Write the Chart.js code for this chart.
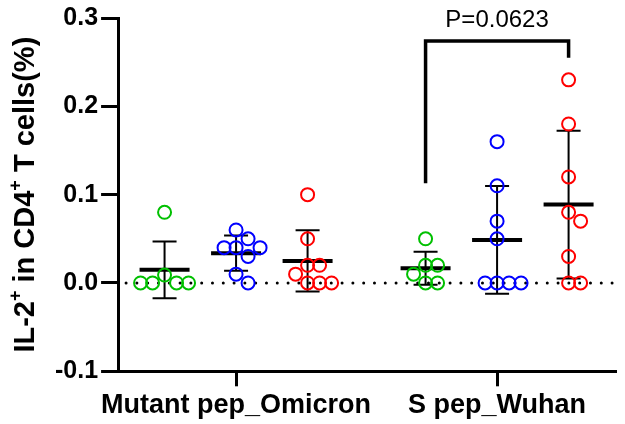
<!DOCTYPE html>
<html>
<head>
<meta charset="utf-8">
<script src="https://cdn.jsdelivr.net/npm/chart.js@4/dist/chart.umd.min.js"></script>
<style>
  html, body { margin: 0; padding: 0; background: #fff; }
  #wrap { width: 625px; height: 424px; }
</style>
</head>
<body>
<div id="wrap"><canvas id="myChart"></canvas></div>
<script>
// values
const categories = ["Mutant pep_Omicron", "S pep_Wuhan"];
const greenValues = [[0.08, 0.009, 0, 0, 0, 0], [0.05, 0.02, 0.02, 0.01, 0, 0]];
const blueValues = [[0.06, 0.05, 0.04, 0.04, 0.04, 0.03, 0.01, 0], [0.16, 0.11, 0.07, 0.05, 0, 0, 0, 0]];
const redValues = [[0.1, 0.05, 0.02, 0.02, 0.01, 0, 0, 0], [0.23, 0.18, 0.12, 0.08, 0.07, 0.03, 0, 0]];
const yTicks = [-0.1, 0, 0.1, 0.2, 0.3];
const pText = "P=0.0623";
const bracketTop = 0.274, bracketLeftEnd = 0.113, bracketRightEnd = 0.255;

const font = "'Liberation Sans', Arial, sans-serif";
const groupGap = 3.65;
const series = [
    { values: greenValues, color: "#00c000" },
    { values: blueValues, color: "#0000ff" },
    { values: redValues, color: "#ff0000" },
];

function xPos(cat, s) { return cat * groupGap + s; }
function mean(a) { return a.reduce((t, v) => t + v, 0) / a.length; }
function sd(a) {
    const m = mean(a);
    return Math.sqrt(a.reduce((t, v) => t + (v - m) ** 2, 0) / (a.length - 1));
}

// mean +/- SD bars and the dotted zero line, under the points
const summaryPlugin = {
    id: "summary",
    beforeDatasetsDraw(chart) {
        const { ctx, chartArea, scales: { x, y } } = chart;
        ctx.save();
        ctx.strokeStyle = "#000";
        ctx.setLineDash([0, 10.8]);
        ctx.lineCap = "round";
        ctx.lineWidth = 3;
        const y0 = y.getPixelForValue(0);
        ctx.beginPath();
        ctx.moveTo(chartArea.left + 8, y0);
        ctx.lineTo(chartArea.right, y0);
        ctx.stroke();
        ctx.setLineDash([]);
        ctx.lineCap = "butt";
        series.forEach((s, si) => {
            s.values.forEach((vals, ci) => {
                const m = mean(vals), d = sd(vals);
                const px = x.getPixelForValue(xPos(ci, si));
                const top = y.getPixelForValue(m + d), bot = y.getPixelForValue(m - d);
                ctx.lineWidth = 2;
                ctx.beginPath();
                ctx.moveTo(px, top); ctx.lineTo(px, bot);
                ctx.moveTo(px - 12, top); ctx.lineTo(px + 12, top);
                ctx.moveTo(px - 12, bot); ctx.lineTo(px + 12, bot);
                ctx.stroke();
                ctx.lineWidth = 4;
                const my = y.getPixelForValue(m);
                ctx.beginPath();
                ctx.moveTo(px - 25, my); ctx.lineTo(px + 25, my);
                ctx.stroke();
            });
        });
        ctx.restore();
    },
    afterDatasetsDraw(chart) {
        const { ctx, scales: { x, y } } = chart;
        const xl = x.getPixelForValue(xPos(1, 0)), xr = x.getPixelForValue(xPos(1, 2));
        const yt = y.getPixelForValue(bracketTop);
        ctx.save();
        ctx.strokeStyle = "#000";
        ctx.lineWidth = 3.5;
        ctx.lineJoin = "miter";
        ctx.beginPath();
        ctx.moveTo(xl, y.getPixelForValue(bracketLeftEnd));
        ctx.lineTo(xl, yt);
        ctx.lineTo(xr, yt);
        ctx.lineTo(xr, y.getPixelForValue(bracketRightEnd));
        ctx.stroke();
        ctx.fillStyle = "#000";
        ctx.font = "24px " + font;
        ctx.textAlign = "center";
        ctx.textBaseline = "middle";
        ctx.fillText(pText, (xl + xr) / 2, 20);
        ctx.restore();
    },
    afterDraw(chart) {
        // y title with superscripts
        const { ctx, chartArea } = chart;
        const parts = [["IL-2", false], ["+", true], [" in CD4", false], ["+", true], [" T cells(%)", false]];
        ctx.save();
        ctx.fillStyle = "#000";
        ctx.textBaseline = "alphabetic";
        ctx.translate(34, (chartArea.top + chartArea.bottom) / 2);
        ctx.rotate(-Math.PI / 2);
        const fontFor = sup => "bold " + (sup ? 18 : 29) + "px " + font;
        let total = 0;
        parts.forEach(([t, sup]) => { ctx.font = fontFor(sup); total += ctx.measureText(t).width; });
        let cx = -total / 2;
        parts.forEach(([t, sup]) => {
            ctx.font = fontFor(sup);
            ctx.fillText(t, cx, sup ? -13 : 0);
            cx += ctx.measureText(t).width;
        });
        ctx.restore();
    },
};

const myChart = new Chart("myChart", {
    type: "scatter",
    data: {
        datasets: series.map((s, si) => ({
            data: s.values.flatMap((vals, ci) => vals.map(v => ({ x: xPos(ci, si), y: v }))),
            borderColor: s.color,
            backgroundColor: "rgba(0,0,0,0)",
            pointRadius: 6.5,
            pointHoverRadius: 6.5,
            pointBorderWidth: 2,
            clip: false,
        })),
    },
    options: {
        responsive: true,
        maintainAspectRatio: false,
        animation: false,
        events: [],
        layout: { padding: { left: 52, top: 2, right: 2, bottom: 0 } },
        plugins: { legend: { display: false }, tooltip: { enabled: false } },
        scales: {
            x: {
                type: "linear",
                min: -0.65,
                max: 6.32,
                afterBuildTicks: axis => { axis.ticks = categories.map((c, i) => ({ value: xPos(i, 1) })); },
                ticks: {
                    color: "#000",
                    padding: 4,
                    maxRotation: 0,
                    font: { family: font, size: 27, weight: "bold", lineHeight: 1.1 },
                    callback: (v, i) => categories[i],
                },
                grid: { drawOnChartArea: false, tickLength: 15, tickWidth: 3, tickColor: "#000" },
                border: { color: "#000", width: 3 },
            },
            y: {
                min: -0.1,
                max: 0.3,
                afterBuildTicks: axis => { axis.ticks = yTicks.map(v => ({ value: v })); },
                ticks: {
                    color: "#000",
                    padding: 3,
                    font: { family: font, size: 25, weight: "bold" },
                    callback: v => v.toFixed(1),
                },
                grid: { drawOnChartArea: false, tickLength: 17, tickWidth: 3, tickColor: "#000" },
                border: { color: "#000", width: 3 },
            },
        },
    },
    plugins: [summaryPlugin],
});

// spread points with equal-ish values sideways (simple beeswarm)
function swarm(chart) {
    const xs = chart.scales.x, ys = chart.scales.y;
    const D = 12, step = 6;
    chart.data.datasets.forEach((ds, si) => {
        let idx = 0;
        series[si].values.forEach((vals, ci) => {
            const cx = xs.getPixelForValue(xPos(ci, si));
            const placed = [];
            vals.forEach(v => {
                const py = ys.getPixelForValue(v);
                let off = 0;
                for (let k = 0; k < 40; k++) {
                    const o = k === 0 ? 0 : (k % 2 ? 1 : -1) * Math.ceil(k / 2) * step;
                    if (placed.every(p => Math.hypot(p[0] - o, p[1] - py) >= D)) { off = o; break; }
                }
                placed.push([off, py]);
                ds.data[idx++].x = xs.getValueForPixel(cx + off);
            });
        });
    });
    chart.update("none");
}
swarm(myChart);
</script>
</body>
</html>
